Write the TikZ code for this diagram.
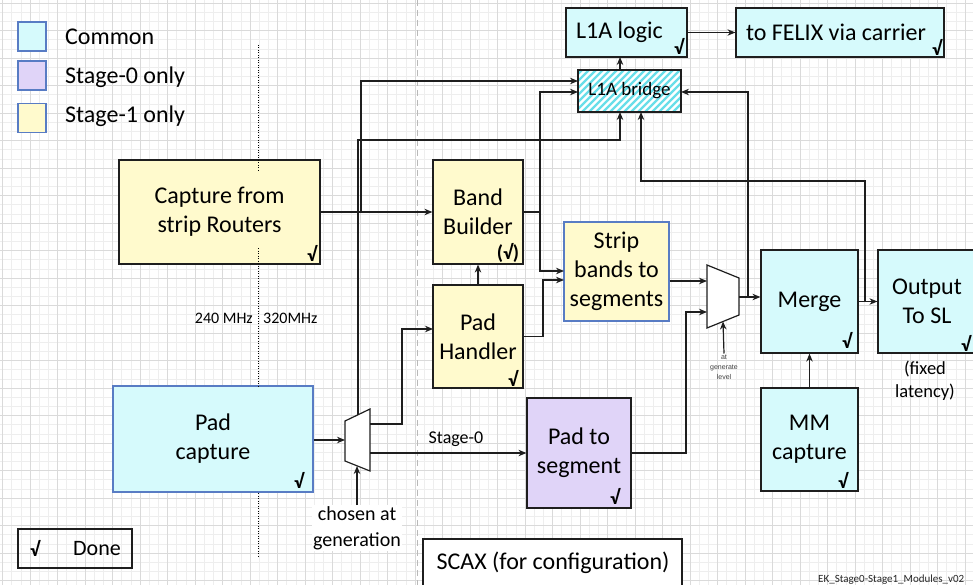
\documentclass[tikz,border=0pt]{standalone}
\usepackage{fontspec}
\setmainfont{Carlito}
\newfontfamily\arialf{Liberation Sans}
\usetikzlibrary{arrows.meta,calc}
\definecolor{cfill}{RGB}{214,250,252}
\definecolor{yfill}{RGB}{255,250,205}
\definecolor{pfill}{RGB}{224,212,248}
\definecolor{bborder}{RGB}{88,124,196}
\definecolor{linec}{RGB}{30,30,30}
\definecolor{stripe}{RGB}{105,222,233}
\definecolor{gridminor}{RGB}{238,238,238}
\definecolor{gridmajor}{RGB}{218,218,218}
\tikzset{
  box/.style={draw=linec, line width=1.2pt, inner sep=0pt, align=center, font=\fontsize{24}{29}\selectfont},
  legbox/.style={draw=bborder, line width=1.2pt, minimum width=28pt, minimum height=29pt, inner sep=0pt},
  legtext/.style={anchor=west, inner sep=0pt, font=\fontsize{24}{29}\selectfont},
  arr/.style={draw=linec, line width=1.2pt, -{Stealth[length=8pt,width=6.5pt]}},
  ln/.style={draw=linec, line width=1.2pt},
  chk/.style={inner sep=0pt, font=\bfseries\fontsize{20}{20}\selectfont},
  lbl/.style={inner sep=1pt, align=center},
}
\begin{document}
\begin{tikzpicture}[x=1pt,y=-1pt]
\useasboundingbox (0,0) rectangle (973,585);
% grid
\foreach \i in {0,...,106} {\draw[gridminor, line width=0.6pt] ({2.5+9.1667*\i},0) -- ++(0,585);}
\foreach \j in {0,...,64} {\draw[gridminor, line width=0.6pt] (0,{3+9.1667*\j}) -- ++(973,0);}
\foreach \i in {0,...,35} {\draw[gridmajor, line width=0.8pt] ({2.5+27.5*\i},0) -- ++(0,585);}
\foreach \j in {0,...,21} {\draw[gridmajor, line width=0.8pt] (0,{3+27.5*\j}) -- ++(973,0);}
% dashed separator
\draw[gray!55, line width=0.8pt, dash pattern=on 6pt off 4pt] (417,0) -- (417,585);

% legend
\node[legbox, fill=cfill] (lg1) at (32,36.5) {};
\node[legbox, fill=pfill] (lg2) at (32,75.5) {};
\node[legbox, fill=yfill] (lg3) at (32,118) {};
\node[legtext] (lt1) at (65,37) {Common};
\node[legtext] (lt2) at (65,77) {Stage-0 only};
\node[legtext] (lt3) at (65,116) {Stage-1 only};

% boxes
\node[box, fill=yfill, minimum width=201pt, minimum height=104pt] (cap) at (219.5,212) {Capture from\\strip Routers};
\node[box, fill=yfill, minimum width=90pt, minimum height=104pt] (bb) at (478,212) {Band\\Builder};
\node[box, fill=yfill, minimum width=90pt, minimum height=103pt] (ph) at (478,336.5) {Pad\\Handler};
\node[box, draw=bborder, fill=yfill, minimum width=105pt, minimum height=99pt] (sb) at (616.5,271.5) {Strip\\bands to\\segments};
\node[box, fill=cfill, minimum width=97pt, minimum height=103pt] (merge) at (809.5,301.5) {Merge};
\node[box, fill=cfill, minimum width=98pt, minimum height=103pt] (out) at (927,301.5) {Output\\To SL};
\node[box, fill=cfill, minimum width=97pt, minimum height=103pt] (mm) at (809.5,439.5) {MM\\capture};
\node[box, fill=pfill, minimum width=104pt, minimum height=110pt] (ps) at (579,453) {Pad to\\segment};
\node[box, draw=bborder, fill=cfill, minimum width=200pt, minimum height=106pt] (pc) at (213,439) {Pad\\capture};
\node[box, fill=cfill, minimum width=121pt, minimum height=49pt] (l1a) at (626.5,32.5) {L1A logic\hspace{14pt}};
\node[box, fill=cfill, minimum width=208pt, minimum height=49pt] (felix) at (840,32.5) {to FELIX via carrier\hspace{8pt}};
% L1A bridge hatched
\begin{scope}
\clip (578,70) rectangle (681,112);
\fill[white] (578,70) rectangle (681,112);
\foreach \k in {0,...,22} {\draw[stripe, line width=2.4pt] ({540+7*\k},112) -- ++(42,-42);}
\end{scope}
\node[box, minimum width=103pt, minimum height=42pt, font=\fontsize{19}{22}\selectfont] (br) at (629.5,91) {L1A bridge};

% checks
\node[chk] (c1) at (312,253) {√};
\node[chk] (c2) at (508,253) {(√)};
\node[chk] (c3) at (513,378) {√};
\node[chk] (c4) at (299,480) {√};
\node[chk] (c5) at (847,340) {√};
\node[chk] (c6) at (966,343) {√};
\node[chk] (c7) at (843,480) {√};
\node[chk] (c8) at (615,496) {√};
\node[chk] (c9) at (679,46) {√};
\node[chk] (c10) at (937,47) {√};

% muxes
\draw[ln, fill=white] (345,421) -- (370,409) -- (370,471) -- (345,461) -- cycle;
\draw[ln, fill=white] (707,265) -- (739,278) -- (739,315) -- (707,328) -- cycle;
\coordinate (m1in) at (345,440);
\coordinate (m1top) at (358,415);
\coordinate (m1o1) at (370,424);
\coordinate (m1o2) at (370,453);
\coordinate (m1bot) at (357,466);
\coordinate (m2in1) at (707,281);
\coordinate (m2in2) at (707,312);
\coordinate (m2out) at (739,297);
\coordinate (m2bot) at (723,321.5);

% bridge ports
\coordinate (brA) at (578,81);
\coordinate (brB) at (578,92);
\coordinate (brC) at (620,112);
\coordinate (brD) at (641,112);
\coordinate (brE) at (681,92);
\coordinate (brN) at (620,70);
\coordinate (l1aS) at (620,57);
\coordinate (sbA) at (564,271);
\coordinate (sbB) at (564,280);
\coordinate (phA) at (433,329);

% labels
\node[lbl, font=\fontsize{18.5}{23}\selectfont] (lat) at (925,381) {(fixed\\latency)};
\node[lbl, font=\arialf\fontsize{7}{10}\selectfont, text=black!75] (agl) at (724,367) {at\\generate\\level};
\node[lbl, fill=white, font=\fontsize{20}{26}\selectfont] (cho) at (357,528) {chosen at\\generation};
\node[lbl, font=\fontsize{18}{22}\selectfont] (st0) at (456,439) {Stage-0};
\node[anchor=east, inner sep=0pt, font=\fontsize{16}{18}\selectfont] (f240) at (253,318) {240 MHz};
\node[anchor=west, inner sep=0pt, font=\fontsize{16}{18}\selectfont] (f320) at (263,318) {320MHz};

% dotted clock boundary
\draw[black, line width=1pt, dash pattern=on 1pt off 1.5pt] (258,45) -- (258,172);
\draw[black, line width=1pt, dash pattern=on 1pt off 1.5pt] (258,248) -- (258,386);
\draw[black, line width=1pt, dash pattern=on 1pt off 1.5pt] (258,493) -- (258,557);

% Done & SCAX
\node[draw=linec, line width=1.2pt, minimum width=114pt, minimum height=39pt, inner sep=0pt] (done) at (75,548.5) {};
\node[chk] (dchk) at (35,548) {√};
\node[inner sep=0pt, font=\fontsize{22}{26}\selectfont] (dtxt) at (97,549) {Done};
\node[draw=linec, fill=white, line width=1.2pt, minimum width=259pt, minimum height=62pt, inner sep=0pt] (scax) at (552.5,570) {};
\node[inner sep=0pt, font=\fontsize{24}{29}\selectfont] (scaxt) at (553,563) {SCAX (for configuration)};
\node[anchor=west, inner sep=0pt, font=\fontsize{11}{13}\selectfont, text=black!85] (foot) at (818,580) {EK\_Stage0-Stage1\_Modules\_v02};

% connectors
\draw[arr] (l1a.east) -- (felix.west);
\draw[arr] (brN) -- (l1aS);
\coordinate (j1) at (361,212);
\draw[arr] (cap.east) -- (bb.west);
\draw[arr] (j1) |- (brA);
\coordinate (j2) at (540,212);
\draw[ln] (bb.east) -- (j2);
\draw[arr] (j2) |- (brB);
\draw[arr] (j2) |- (sbA);
\draw[arr] (ph.east) -- (543,336.5) |- (sbB);
\draw[arr] (ph.north) -- (bb.south);
\draw[arr] (m1top) -- (358,140) -| (brC);
\draw[arr] (pc.east |- m1in) -- (m1in);
\draw[arr] (m1o1) -- (402,424) |- (phA);
\draw[arr] (m1o2) -- (ps.west);
\draw[arr] (cho.north) -- (m1bot);
\draw[arr] (sb.east |- m2in1) -- (m2in1);
\draw[arr] (ps.east) -- (686,453) |- (m2in2);
\draw[arr] (agl.north) -- (m2bot);
\draw[arr] (m2out) -- (m2out -| merge.west);
\draw[arr] (748,297) |- (brE);
\draw[arr] (merge.east) -- (out.west);
\draw[arr] (865,301.5) -- (865,181) -| (brD);
\draw[arr] (mm.north) -- (merge.south);
\end{tikzpicture}
\end{document}
